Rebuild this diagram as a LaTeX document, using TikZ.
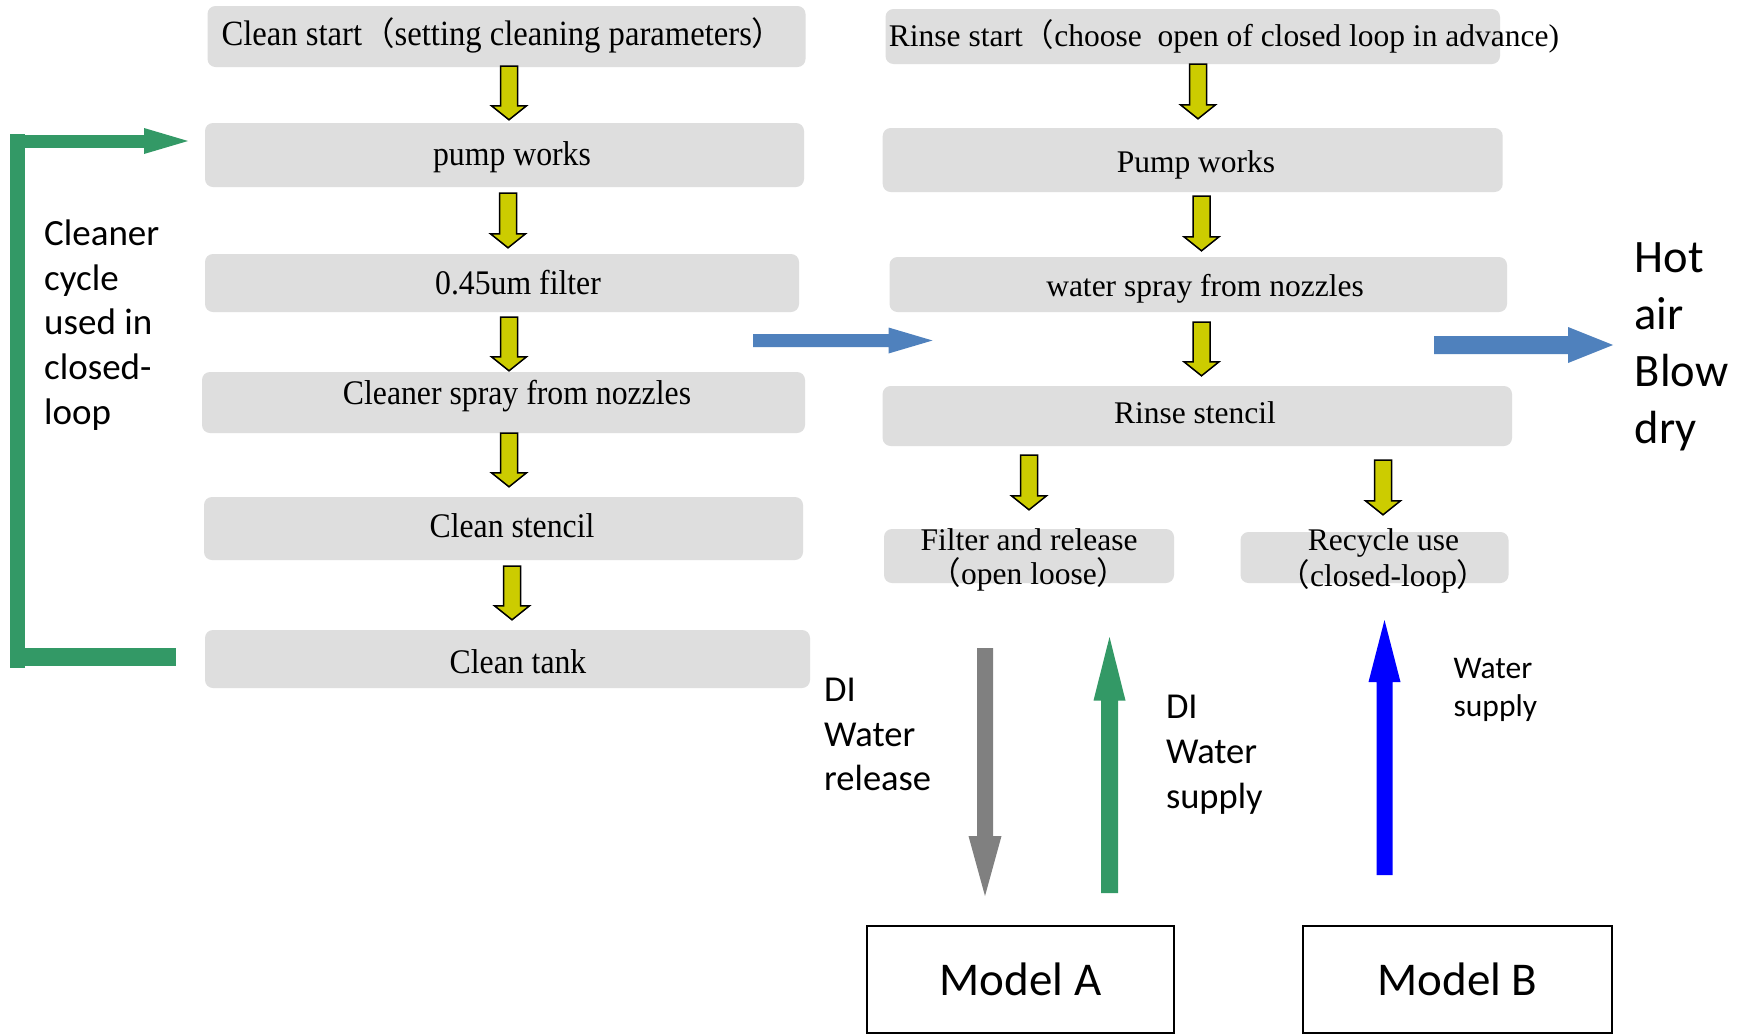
\documentclass[tikz,border=0pt]{standalone}
\usepackage{fontspec}
\setmainfont{Liberation Serif}
\newfontfamily\condser{Liberation Serif}[FakeStretch=0.92]
\newfontfamily\sansf{Carlito}
\newfontfamily\cjkf{Noto Sans CJK SC}
\usetikzlibrary{calc}
\definecolor{boxgray}{RGB}{222,222,222}
\definecolor{ayellow}{RGB}{204,204,0}
\definecolor{loopgreen}{RGB}{51,153,102}
\definecolor{steelblue}{RGB}{79,129,189}
\definecolor{relgray}{RGB}{128,128,128}
\definecolor{pureblue}{RGB}{0,0,255}
% #1 style, #2 shaft half width, #3 head half width, #4 head length, #5 start, #6 tip
\newcommand\blockarrow[6]{%
  \path (#5) coordinate (baS) (#6) coordinate (baE);
  \path ($(baE)!#4!(baS)$) coordinate (baH);
  \path[#1] ($(baS)!#2!90:(baE)$) -- ($(baH)!#2!90:(baE)$) -- ($(baH)!#3!90:(baE)$) -- (baE)
    -- ($(baH)!#3!-90:(baE)$) -- ($(baH)!#2!-90:(baE)$) -- ($(baS)!#2!-90:(baE)$) -- cycle;}
% #1 xshift, #2 top anchor, #3 top yshift, #4 bottom anchor, #5 bottom yshift
\newcommand\yarr[5]{%
  \path ([xshift=#1pt,yshift=#3pt]#2) coordinate (yS);
  \path ([yshift=#5pt]yS |- #4) coordinate (yE);
  \blockarrow{ya}{8.5pt}{17.5pt}{14pt}{yS}{yE}}
\begin{document}
\begin{tikzpicture}[x=1pt,y=-1pt,
  graybox/.style={fill=boxgray, rounded corners=8pt, inner sep=0pt},
  sertext/.style={font=\fontsize{31.5}{34}\selectfont, inner sep=0pt, anchor=base},
  lsertext/.style={font=\condser\fontsize{34.5}{36}\selectfont, inner sep=0pt, anchor=base},
  ya/.style={fill=ayellow, draw=black, line width=1.5pt, line join=miter},
  sanslab/.style={font=\sansf\fontsize{#1}{#1}\selectfont, inner sep=0pt, anchor=base west, align=left},
  modelbox/.style={draw=black, line width=2pt, inner sep=0pt, font=\sansf\fontsize{47}{56}\selectfont}]
\useasboundingbox (0,0) rectangle (1748,1034);
\fill[white] (0,0) rectangle (1748,1034);

% ---------- left column ----------
\node[graybox, minimum width=598pt, minimum height=61pt] (b1) at (506.5,36.5) {};
\node[graybox, minimum width=599pt, minimum height=64pt] (b2) at (504.5,155) {};
\node[graybox, minimum width=594pt, minimum height=58pt] (b3) at (502,283) {};
\node[graybox, minimum width=603pt, minimum height=61pt] (b4) at (503.5,402.5) {};
\node[graybox, minimum width=599pt, minimum height=63pt] (b5) at (503.5,528.5) {};
\node[graybox, minimum width=605pt, minimum height=58pt] (b6) at (507.5,659) {};

\node[lsertext, font=\condser\fontsize{35.5}{37}\selectfont] (t1) at (503,45) {Clean start{\cjkf\fontsize{32.5}{36}\selectfont （}setting cleaning parameters{\cjkf\fontsize{32.5}{36}\selectfont ）}};
\node[lsertext] (t2) at (512,165.5) {pump works};
\node[lsertext] (t3) at (518,294.5) {0.45um filter};
\node[lsertext] (t4) at (517,404) {Cleaner spray from nozzles};
\node[lsertext] (t5) at (512,537) {Clean stencil};
\node[lsertext] (t6) at (518,673.5) {Clean tank};

\yarr{2.5}{b1.south}{1}{b2.north}{3}
\yarr{3.5}{b2.south}{-6}{b3.north}{6}
\yarr{7}{b3.south}{-5}{b4.north}{1}
\yarr{5.5}{b4.south}{0}{b5.north}{10}
\yarr{8.5}{b5.south}{-6}{b6.north}{10}

% green closed loop
\coordinate (lpA) at (176,657);
\coordinate (lpB) at (188,141);
\fill[loopgreen] (9.5,134) rectangle (24.5,668);
\fill[loopgreen] (24.5,648) rectangle (lpA |- 0,666);
\fill[loopgreen] (24.5,134.5) rectangle (144,147.5);
\fill[loopgreen] (144,128) -- (lpB) -- (144,154) -- cycle;

\node[sanslab=37] (cyc) at (44,424) {Cleaner\\[7.6pt]cycle\\[7.6pt]used in\\[7.6pt]closed-\\[7.6pt]loop};

% ---------- right column ----------
\node[graybox, minimum width=614.5pt, minimum height=55pt] (r1) at (1192.75,36.5) {};
\node[graybox, minimum width=620pt, minimum height=64pt] (r2) at (1192.7,160) {};
\node[graybox, minimum width=617.5pt, minimum height=55pt] (r3) at (1198.25,284.5) {};
\node[graybox, minimum width=629.4pt, minimum height=60pt] (r4) at (1197.3,416) {};
\node[graybox, minimum width=290pt, minimum height=54pt] (f) at (1029,556) {};
\node[graybox, minimum width=268pt, minimum height=51pt] (rc) at (1374.5,557.5) {};

\node[sertext] (u1) at (1224,46) {Rinse start{\cjkf （}choose\ \ open of closed loop in advance)};
\node[sertext] (u2) at (1196,172) {Pump works};
\node[sertext] (u3) at (1205,296) {water spray from nozzles};
\node[sertext] (u4) at (1195,423) {Rinse stencil};
\node[sertext, align=center] (u5) at (1029,584.5) {Filter and release\\{\cjkf （}open loose{\cjkf ）}};
\node[sertext, align=center] (u6) at (1383.5,586.5) {Recycle use\\[2pt]{\cjkf （}closed-loop{\cjkf ）}};

\yarr{5.25}{r1.south}{0}{r2.north}{9}
\yarr{8.8}{r2.south}{-4}{r3.north}{6}
\yarr{3.25}{r3.south}{-10}{r4.north}{10}
\yarr{0}{r4.south -| f.north}{-9}{f.north}{19}
\yarr{8.5}{r4.south -| rc.north}{-14}{rc.north}{17}

% blue arrows
\coordinate (bl1) at (753,340.5);
\coordinate (bl2) at (932.5,340.5);
\blockarrow{fill=steelblue}{6.5pt}{13pt}{44pt}{bl1}{bl2}
\coordinate (br1) at (1434,345);
\coordinate (br2) at (1613,345);
\blockarrow{fill=steelblue}{9pt}{18pt}{45pt}{br1}{br2}
\node[sanslab=46.5] (hot) at (1634.5,443) {Hot\\[10.5pt]air\\[10.5pt]Blow\\[10.5pt]dry};

% models
\node[modelbox, minimum width=307pt, minimum height=107pt] (ma) at (1020.5,979.5) {Model A};
\node[modelbox, minimum width=309pt, minimum height=107pt] (mb) at (1457.5,979.5) {Model B};

% vertical arrows
\coordinate (g1) at (985,648);
\coordinate (g2) at (985,896);
\blockarrow{fill=relgray}{8pt}{16.5pt}{60pt}{g1}{g2}
\coordinate (s1) at (1109.5,893);
\coordinate (s2) at (1109.5,637);
\blockarrow{fill=loopgreen}{8.5pt}{16pt}{63.5pt}{s1}{s2}
\coordinate (w1) at (1384.5,875);
\coordinate (w2) at (1384.5,620);
\blockarrow{fill=pureblue}{8pt}{16pt}{62pt}{w1}{w2}

\node[sanslab=36.5] (rel) at (824,790.7) {DI\\[8pt]Water\\[8pt]release};
\node[sanslab=36.5] (sup) at (1165.8,808.4) {DI\\[8.5pt]Water\\[8.5pt]supply};
\node[sanslab=31.5] (wsup) at (1453.4,716.5) {Water\\[7pt]supply};
\end{tikzpicture}
\end{document}
